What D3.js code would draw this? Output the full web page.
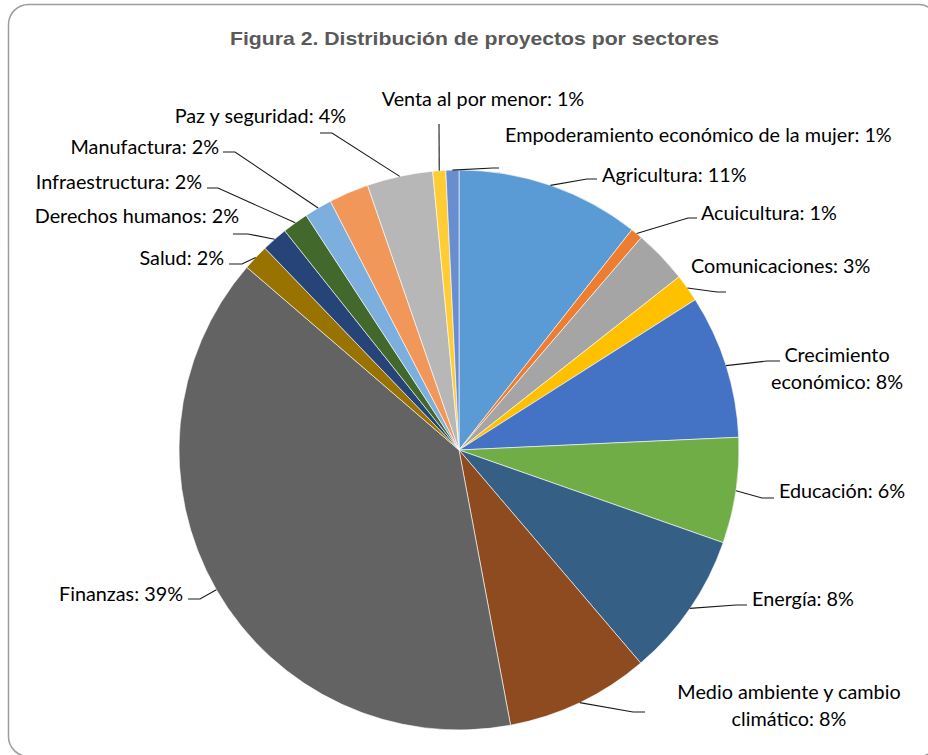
<!DOCTYPE html>
<html>
<head>
<meta charset="utf-8">
<script src="https://cdn.jsdelivr.net/npm/d3@7"></script>
<style>
html,body{margin:0;padding:0;background:#fff;}
svg{display:block;}
</style>
</head>
<body>
<svg id="chart" width="928" height="755"></svg>
<script>
// ---- data ----
const sectors = ["Agricultura","Acuicultura","Comunicaciones","(sin etiqueta)","Crecimiento económico","Educación","Energía","Medio ambiente y cambio climático","Finanzas","Salud","Derechos humanos","Infraestructura","Manufactura","(sin etiqueta 2)","Paz y seguridad","Venta al por menor","Empoderamiento económico de la mujer"];
const shares = [10.6,0.7,3.1,1.6,8.3,6.1,8.4,8.3,39.3,1.5,1.5,1.5,1.6,2.3,3.8,0.75,0.75];
const colors = ["#5B9BD5","#ED7D31","#A5A5A5","#FFC000","#4472C4","#70AD47","#365F86","#8E4B1F","#636363","#997300","#264478","#43682B","#7CAFDD","#F1975A","#B7B7B7","#FFCD33","#698ED0"];
const labelTexts = [
  ["Venta al por menor: 1%"],
  ["Empoderamiento económico de la mujer: 1%"],
  ["Agricultura: 11%"],
  ["Acuicultura: 1%"],
  ["Comunicaciones: 3%"],
  ["Crecimiento","económico: 8%"],
  ["Educación: 6%"],
  ["Energía: 8%"],
  ["Medio ambiente y cambio","climático: 8%"],
  ["Finanzas: 39%"],
  ["Salud: 2%"],
  ["Derechos humanos: 2%"],
  ["Infraestructura: 2%"],
  ["Manufactura: 2%"],
  ["Paz y seguridad: 4%"]
];
const title = "Figura 2. Distribución de proyectos por sectores";

// ---- layout (positions only) ----
const cx = 459, cy = 450, R = 280;
const labelLayout = [
  {slice:15, anchor:"middle", x:483, y:99,  pts:[[439,124]]},
  {slice:16, anchor:"start",  x:505, y:135, pts:[[493,168],[499,168]]},
  {slice:0,  anchor:"start",  x:602, y:175, pts:[[587,179],[597,179]]},
  {slice:1,  anchor:"start",  x:701, y:213, pts:[[688,218],[697,218]]},
  {slice:3,  anchor:"start",  x:691, y:266, pts:[[717,292],[726,292]]},
  {slice:4,  anchor:"middle", x:837, y:355, pts:[[767,361],[780,361]]},
  {slice:5,  anchor:"start",  x:779, y:491, pts:[[762,498],[774,498]]},
  {slice:6,  anchor:"start",  x:752, y:599, pts:[[736,605],[747,605]]},
  {slice:7,  anchor:"middle", x:789, y:692, pts:[[633,712],[645,712]]},
  {slice:8,  anchor:"end",    x:183, y:594, pts:[[200,599],[188,599]]},
  {slice:9,  anchor:"end",    x:224, y:258, pts:[[242,264],[229,264]]},
  {slice:10, anchor:"end",    x:239, y:216, pts:[[248,234],[233,234]]},
  {slice:11, anchor:"end",    x:202, y:182, pts:[[218,188],[207,188]]},
  {slice:12, anchor:"end",    x:219, y:147, pts:[[235,152],[223,152]]},
  {slice:14, anchor:"end",    x:346, y:116, pts:[[332,133],[320,133]]}
];

const svg = d3.select("#chart");

// frame
svg.append("rect")
  .attr("x",8.5).attr("y",4.5).attr("width",930).attr("height",752)
  .attr("rx",20).attr("ry",20)
  .attr("fill","#fff").attr("stroke","#9c9c9c").attr("stroke-width",1.5);

// title
svg.append("text")
  .attr("x",474.5).attr("y",45)
  .attr("text-anchor","middle")
  .attr("font-family","'Liberation Sans', Arial, sans-serif")
  .attr("font-weight","bold").attr("font-size",18.5)
  .attr("textLength",489).attr("lengthAdjust","spacingAndGlyphs")
  .attr("fill","#595959")
  .text(title);

// pie
const pie = d3.pie().sort(null).value(d => d)(shares);
const arc = d3.arc().innerRadius(0).outerRadius(R);
const g = svg.append("g").attr("transform",`translate(${cx},${cy})`);
g.selectAll("path").data(pie).join("path")
  .attr("d",arc)
  .attr("fill",(d,i)=>colors[i])
  .attr("stroke","#fff").attr("stroke-width",0.6);

// labels & leaders
const lab = svg.append("g");
labelLayout.forEach((L,k) => {
  const p = pie[L.slice];
  const a = (p.startAngle + p.endAngle)/2;
  const ax = cx + R*Math.sin(a), ay = cy - R*Math.cos(a);
  const pts = [[ax,ay]].concat(L.pts);
  lab.append("path")
    .attr("d", d3.line()(pts))
    .attr("fill","none").attr("stroke","#1a1a1a").attr("stroke-width",1.1);
  const t = lab.append("text")
    .attr("text-anchor",L.anchor)
    .attr("font-family","Lato, 'Open Sans', sans-serif")
    .attr("font-size",19.8).attr("fill","#000");
  labelTexts[k].forEach((line,j) => {
    t.append("tspan").attr("x",L.x).attr("y",L.y + j*27).attr("dy","0.35em").text(line);
  });
});
</script>
</body>
</html>
